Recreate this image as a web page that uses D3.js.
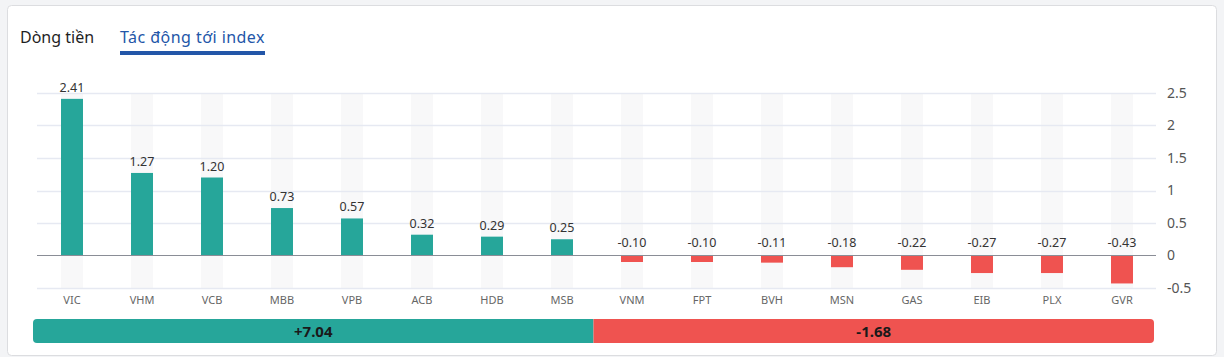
<!DOCTYPE html>
<html><head><meta charset="utf-8">
<script src="https://cdn.jsdelivr.net/npm/d3@7"></script>
<style>
html,body{margin:0;padding:0;background:#f3f4f6;}
body{width:1224px;height:357px;overflow:hidden;font-family:"Segoe UI","Noto Sans",Roboto,Arial,sans-serif;}
</style></head>
<body>
<svg id="chart" width="1224" height="357"></svg>
<script>
const categories = ["VIC","VHM","VCB","MBB","VPB","ACB","HDB","MSB","VNM","FPT","BVH","MSN","GAS","EIB","PLX","GVR"];
const values = [2.41,1.27,1.20,0.73,0.57,0.32,0.29,0.25,-0.10,-0.10,-0.11,-0.18,-0.22,-0.27,-0.27,-0.43];
const yTicks = [-0.5,0,0.5,1,1.5,2,2.5];
const tabs = ["Dòng tiền","Tác động tới index"];
const totals = [7.04,-1.68];

const green = "#26a69a", red = "#ef5350";
const fix = s => s.replace("\u2212","-");
const f2 = d => fix(d3.format(".2f")(d));
const svg = d3.select("#chart");

// card
svg.append("rect").attr("x",7.5).attr("y",5.5).attr("width",1209).attr("height",350)
  .attr("rx",4).attr("fill","#fff").attr("stroke","#dcdde0");

// tabs
svg.append("text").attr("x",20).attr("y",43).attr("font-size",16).attr("fill","#1f1f1f").text(tabs[0]);
const t2 = svg.append("text").attr("x",120).attr("y",43).attr("font-size",16).attr("letter-spacing",0.45).attr("fill","#2356a8").text(tabs[1]);
const w2 = 145;
svg.append("rect").attr("x",120).attr("y",51).attr("width",w2).attr("height",4).attr("fill","#2356a8");

const x = d3.scaleBand().domain(categories).range([37,1157]).paddingInner(0.686).paddingOuter(0.343);
const y = d3.scaleLinear().domain([-0.5,2.5]).range([288,93]);

// band backgrounds
svg.append("g").selectAll("rect").data(categories).join("rect")
  .attr("x",d=>x(d)).attr("width",x.bandwidth())
  .attr("y",y(2.5)).attr("height",y(-0.5)-y(2.5)).attr("fill","#f8f8f9");

// grid
svg.append("g").selectAll("line").data(yTicks.filter(t=>t!==0)).join("line")
  .attr("x1",37).attr("x2",1156).attr("y1",d=>Math.round(y(d))+0.5).attr("y2",d=>Math.round(y(d))+0.5)
  .attr("stroke","#e6e9f2").attr("stroke-width",1.5);

// right axis
const ax = svg.append("g").attr("transform","translate(1156,0)")
  .call(d3.axisRight(y).tickValues(yTicks).tickSize(0).tickPadding(11).tickFormat(d=>fix(d3.format("")(d))));
ax.select(".domain").remove();
ax.selectAll("text").attr("font-size",14).attr("fill","#555").attr("font-family","'Segoe UI','Noto Sans',Roboto,Arial,sans-serif");

// bars
svg.append("g").selectAll("rect").data(values).join("rect")
  .attr("x",(d,i)=>x(categories[i])).attr("width",x.bandwidth())
  .attr("y",d=>y(Math.max(0,d))).attr("height",d=>Math.abs(y(d)-y(0)))
  .attr("fill",d=>d>=0?green:red);

// zero line
svg.append("line").attr("x1",37).attr("x2",1156).attr("y1",y(0)).attr("y2",y(0))
  .attr("stroke","#8a8d96").attr("stroke-width",1.2);

// value labels
svg.append("g").selectAll("text").data(values).join("text")
  .attr("x",(d,i)=>x(categories[i])+x.bandwidth()/2)
  .attr("y",d=>d>=0?y(d)-7:y(0)-9)
  .attr("text-anchor","middle").attr("font-size",12.5).attr("fill","#333")
  .text(d=>f2(d));

// x labels
const xa = svg.append("g").attr("transform","translate(0,292)")
  .call(d3.axisBottom(x).tickSize(0).tickPadding(4));
xa.select(".domain").remove();
xa.selectAll("text").attr("font-size",11).attr("fill","#666").attr("font-family","'Segoe UI','Noto Sans',Roboto,Arial,sans-serif");

// totals bar
const bx = d3.scaleLinear().domain([0,1]).range([33,1154]);
const bar = svg.append("g");
const clipId="clipbar";
svg.append("clipPath").attr("id",clipId).append("rect").attr("x",bx(0)).attr("y",319).attr("width",bx(1)-bx(0)).attr("height",24).attr("rx",4);
const parts = [{v:totals[0],a:0,b:0.5,c:green},{v:totals[1],a:0.5,b:1,c:red}];
bar.attr("clip-path",`url(#${clipId})`).selectAll("rect").data(parts).join("rect")
  .attr("x",d=>bx(d.a)).attr("width",d=>bx(d.b)-bx(d.a)).attr("y",319).attr("height",24).attr("fill",d=>d.c);
svg.append("g").selectAll("text").data(parts).join("text")
  .attr("x",d=>(bx(d.a)+bx(d.b))/2).attr("y",337).attr("text-anchor","middle")
  .attr("font-size",15).attr("font-weight","bold").attr("fill","#1a1a1a")
  .text(d=>(d.v>0?"+":"")+f2(d.v));
</script>
</body></html>
